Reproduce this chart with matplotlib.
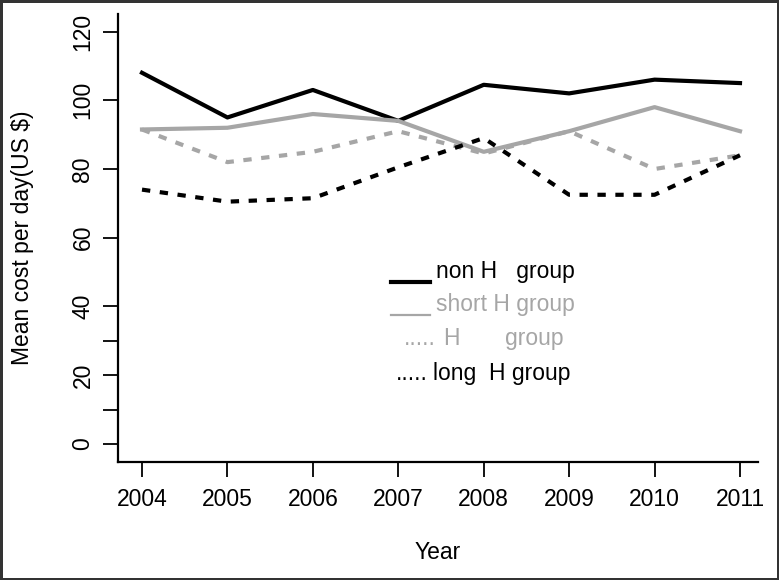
import matplotlib
matplotlib.use("Agg")
import matplotlib.pyplot as plt

plt.rcParams['font.family'] = ['Liberation Sans', 'DejaVu Sans']

years = [2004, 2005, 2006, 2007, 2008, 2009, 2010, 2011]
non_h = [108, 95, 103, 94, 104.5, 102, 106, 105]
short_h = [91.5, 92, 96, 94, 85, 91, 98, 91]
h_group = [91.5, 82, 85, 91, 84.5, 91, 80, 84]
long_h = [74, 70.5, 71.5, 80.5, 89, 72.5, 72.5, 84]

y_ticks = [0, 10, 20, 30, 40, 60, 80, 100, 120]
y_labels = ["0", "", "20", "", "40", "60", "80", "100", "120"]

GREY = "#a6a6a6"
FS = 16.5
LW = 3.0

fig = plt.figure(figsize=(7.79, 5.8), dpi=100)
fig.patch.set_edgecolor("#333333")
fig.patch.set_linewidth(2.5)

ax = fig.add_axes([118 / 779, 1 - 462 / 580, 640 / 779, 448 / 580])

ax.plot(years, non_h, color="black", linewidth=LW, solid_joinstyle="round")
ax.plot(years, short_h, color=GREY, linewidth=LW, solid_joinstyle="round")
ax.plot(years, h_group, color=GREY, linewidth=LW, linestyle=(0, (2.0, 2.3)))
ax.plot(years, long_h, color="black", linewidth=LW, linestyle=(0, (2.0, 2.3)))

ax.set_xlim(2004 - 24 / 85.43, 2011 + 18 / 85.43)
ax.set_ylim(-18 / 3.433, 120 + 17.5 / 3.433)

for side in ["top", "right"]:
    ax.spines[side].set_visible(False)
for side in ["left", "bottom"]:
    ax.spines[side].set_linewidth(1.6)

ax.set_xticks(years)
ax.set_xticklabels([str(y) for y in years], fontsize=FS)
ax.set_yticks(y_ticks)
ax.set_yticklabels(y_labels, fontsize=FS, rotation=90, va="center")
ax.tick_params(axis="x", length=11, width=1.3, pad=8)
ax.tick_params(axis="y", length=11, width=1.3, pad=6)

ax.set_xlabel("Year", fontsize=FS, labelpad=21)
ax.set_ylabel("Mean cost per day(US $)", fontsize=FS, labelpad=27)

# legend drawn as text, like the original
def fx(px):
    return 2004 + (px - 142) / 85.43

def fy(py):
    return (444 - py) / 3.433

ax.plot([fx(391), fx(430)], [fy(282)] * 2, color="black", linewidth=LW, clip_on=False)
ax.plot([fx(391), fx(430)], [fy(315)] * 2, color=GREY, linewidth=1.6, clip_on=False)

ax.text(fx(436), fy(272), "non H   group", fontsize=FS, color="black", va="center")
ax.text(fx(436), fy(305), "short H group", fontsize=FS, color=GREY, va="center")
ax.text(fx(404), fy(339), ".....", fontsize=FS, color=GREY, va="center")
ax.text(fx(443), fy(339), "H", fontsize=FS, color=GREY, va="center")
ax.text(fx(505), fy(339), "group", fontsize=FS, color=GREY, va="center")
ax.text(fx(396), fy(374), ".....", fontsize=FS, color="black", va="center")
ax.text(fx(433), fy(374), "long  H group", fontsize=FS, color="black", va="center")

fig.savefig("out.png", dpi=100)
